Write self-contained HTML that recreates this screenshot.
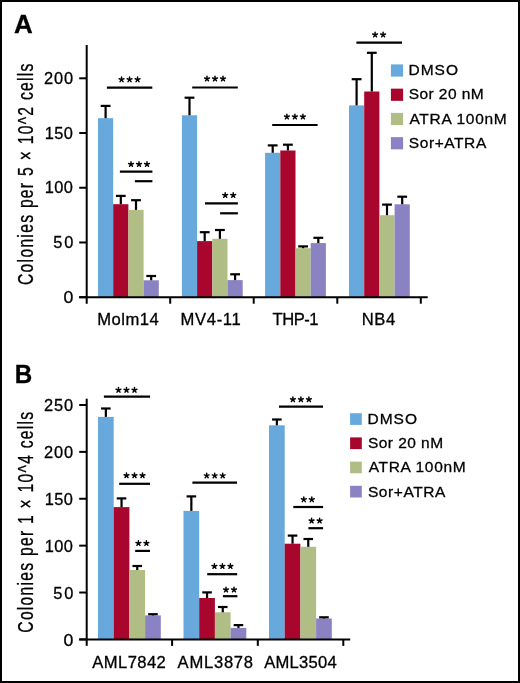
<!DOCTYPE html>
<html><head><meta charset="utf-8"><style>
html,body{margin:0;padding:0;background:#fff;}
body{width:520px;height:683px;overflow:hidden;}
svg{display:block;will-change:transform;}
text{font-family:"Liberation Sans", sans-serif;fill:#000;stroke:#000;stroke-width:0.3px;}
</style></head><body>
<svg width="520" height="683" viewBox="0 0 520 683">
<rect x="0" y="0" width="520" height="683" fill="#fff"/>
<rect x="98.00" y="118.20" width="15.20" height="179.00" fill="#67a9dd"/>
<line x1="105.60" y1="105.90" x2="105.60" y2="118.20" stroke="#000" stroke-width="2.2"/>
<line x1="100.70" y1="105.90" x2="110.50" y2="105.90" stroke="#000" stroke-width="2.2"/>
<rect x="113.20" y="204.20" width="15.20" height="93.00" fill="#a8062c"/>
<line x1="120.80" y1="195.90" x2="120.80" y2="204.20" stroke="#000" stroke-width="2.2"/>
<line x1="115.90" y1="195.90" x2="125.70" y2="195.90" stroke="#000" stroke-width="2.2"/>
<rect x="128.40" y="209.90" width="15.20" height="87.30" fill="#b0bd85"/>
<line x1="136.00" y1="200.20" x2="136.00" y2="209.90" stroke="#000" stroke-width="2.2"/>
<line x1="131.10" y1="200.20" x2="140.90" y2="200.20" stroke="#000" stroke-width="2.2"/>
<rect x="143.60" y="280.30" width="15.20" height="16.90" fill="#8b82c3"/>
<line x1="151.20" y1="276.00" x2="151.20" y2="280.30" stroke="#000" stroke-width="2.2"/>
<line x1="146.30" y1="276.00" x2="156.10" y2="276.00" stroke="#000" stroke-width="2.2"/>
<rect x="181.90" y="115.30" width="15.20" height="181.90" fill="#67a9dd"/>
<line x1="189.50" y1="97.70" x2="189.50" y2="115.30" stroke="#000" stroke-width="2.2"/>
<line x1="184.60" y1="97.70" x2="194.40" y2="97.70" stroke="#000" stroke-width="2.2"/>
<rect x="197.10" y="241.10" width="15.20" height="56.10" fill="#a8062c"/>
<line x1="204.70" y1="232.20" x2="204.70" y2="241.10" stroke="#000" stroke-width="2.2"/>
<line x1="199.80" y1="232.20" x2="209.60" y2="232.20" stroke="#000" stroke-width="2.2"/>
<rect x="212.30" y="238.80" width="15.20" height="58.40" fill="#b0bd85"/>
<line x1="219.90" y1="230.00" x2="219.90" y2="238.80" stroke="#000" stroke-width="2.2"/>
<line x1="215.00" y1="230.00" x2="224.80" y2="230.00" stroke="#000" stroke-width="2.2"/>
<rect x="227.50" y="280.10" width="15.20" height="17.10" fill="#8b82c3"/>
<line x1="235.10" y1="274.30" x2="235.10" y2="280.10" stroke="#000" stroke-width="2.2"/>
<line x1="230.20" y1="274.30" x2="240.00" y2="274.30" stroke="#000" stroke-width="2.2"/>
<rect x="265.10" y="152.80" width="15.20" height="144.40" fill="#67a9dd"/>
<line x1="272.70" y1="145.40" x2="272.70" y2="152.80" stroke="#000" stroke-width="2.2"/>
<line x1="267.80" y1="145.40" x2="277.60" y2="145.40" stroke="#000" stroke-width="2.2"/>
<rect x="280.30" y="150.50" width="15.20" height="146.70" fill="#a8062c"/>
<line x1="287.90" y1="144.70" x2="287.90" y2="150.50" stroke="#000" stroke-width="2.2"/>
<line x1="283.00" y1="144.70" x2="292.80" y2="144.70" stroke="#000" stroke-width="2.2"/>
<rect x="295.50" y="248.20" width="15.20" height="49.00" fill="#b0bd85"/>
<line x1="303.10" y1="246.40" x2="303.10" y2="248.20" stroke="#000" stroke-width="2.2"/>
<line x1="298.20" y1="246.40" x2="308.00" y2="246.40" stroke="#000" stroke-width="2.2"/>
<rect x="310.70" y="243.10" width="15.20" height="54.10" fill="#8b82c3"/>
<line x1="318.30" y1="237.80" x2="318.30" y2="243.10" stroke="#000" stroke-width="2.2"/>
<line x1="313.40" y1="237.80" x2="323.20" y2="237.80" stroke="#000" stroke-width="2.2"/>
<rect x="349.00" y="105.40" width="15.20" height="191.80" fill="#67a9dd"/>
<line x1="356.60" y1="79.20" x2="356.60" y2="105.40" stroke="#000" stroke-width="2.2"/>
<line x1="351.70" y1="79.20" x2="361.50" y2="79.20" stroke="#000" stroke-width="2.2"/>
<rect x="364.20" y="91.50" width="15.20" height="205.70" fill="#a8062c"/>
<line x1="371.80" y1="52.80" x2="371.80" y2="91.50" stroke="#000" stroke-width="2.2"/>
<line x1="366.90" y1="52.80" x2="376.70" y2="52.80" stroke="#000" stroke-width="2.2"/>
<rect x="379.40" y="215.20" width="15.20" height="82.00" fill="#b0bd85"/>
<line x1="387.00" y1="204.60" x2="387.00" y2="215.20" stroke="#000" stroke-width="2.2"/>
<line x1="382.10" y1="204.60" x2="391.90" y2="204.60" stroke="#000" stroke-width="2.2"/>
<rect x="394.60" y="204.30" width="15.20" height="92.90" fill="#8b82c3"/>
<line x1="402.20" y1="196.70" x2="402.20" y2="204.30" stroke="#000" stroke-width="2.2"/>
<line x1="397.30" y1="196.70" x2="407.10" y2="196.70" stroke="#000" stroke-width="2.2"/>
<line x1="86.70" y1="45.00" x2="86.70" y2="303.70" stroke="#000" stroke-width="2.0"/>
<line x1="79.20" y1="297.20" x2="427.70" y2="297.20" stroke="#000" stroke-width="2.0"/>
<line x1="79.20" y1="297.20" x2="86.70" y2="297.20" stroke="#000" stroke-width="2.0"/>
<text transform="translate(63.39,302.70) scale(1.0798,1)" font-size="16.4">0</text>
<line x1="79.20" y1="242.47" x2="86.70" y2="242.47" stroke="#000" stroke-width="2.0"/>
<text transform="translate(53.34,247.97) scale(1.0000,1)" font-size="16.4" letter-spacing="1.708">50</text>
<line x1="79.20" y1="187.75" x2="86.70" y2="187.75" stroke="#000" stroke-width="2.0"/>
<text transform="translate(44.79,193.25) scale(1.0000,1)" font-size="16.4" letter-spacing="0.390">100</text>
<line x1="79.20" y1="133.03" x2="86.70" y2="133.03" stroke="#000" stroke-width="2.0"/>
<text transform="translate(44.79,138.53) scale(1.0000,1)" font-size="16.4" letter-spacing="0.390">150</text>
<line x1="79.20" y1="78.30" x2="86.70" y2="78.30" stroke="#000" stroke-width="2.0"/>
<text transform="translate(44.08,83.80) scale(1.0000,1)" font-size="16.4" letter-spacing="0.894">200</text>
<line x1="170.20" y1="297.20" x2="170.20" y2="303.70" stroke="#000" stroke-width="2.0"/>
<line x1="253.70" y1="297.20" x2="253.70" y2="303.70" stroke="#000" stroke-width="2.0"/>
<line x1="337.30" y1="297.20" x2="337.30" y2="303.70" stroke="#000" stroke-width="2.0"/>
<line x1="420.80" y1="297.20" x2="420.80" y2="303.70" stroke="#000" stroke-width="2.0"/>
<text transform="translate(97.17,325.00) scale(1.0000,1)" font-size="16.6" letter-spacing="0.526">Molm14</text>
<text transform="translate(180.47,325.00) scale(1.0000,1)" font-size="16.6" letter-spacing="0.684">MV4-11</text>
<text transform="translate(272.57,325.00) scale(1.0000,1)" font-size="16.6" letter-spacing="-0.478">THP-1</text>
<text transform="translate(361.77,325.00) scale(1.0000,1)" font-size="16.6" letter-spacing="0.578">NB4</text>
<line x1="106.90" y1="87.60" x2="152.30" y2="87.60" stroke="#000" stroke-width="2.2"/>
<path d="M121.55,79.57L121.55,77.02M121.55,79.57L123.98,78.79M121.55,79.57L123.05,81.64M121.55,79.57L120.05,81.64M121.55,79.57L119.12,78.79" stroke="#000" stroke-width="1.45" stroke-linecap="round" fill="none"/>
<path d="M129.55,79.57L129.55,77.02M129.55,79.57L131.98,78.79M129.55,79.57L131.05,81.64M129.55,79.57L128.05,81.64M129.55,79.57L127.12,78.79" stroke="#000" stroke-width="1.45" stroke-linecap="round" fill="none"/>
<path d="M137.55,79.57L137.55,77.02M137.55,79.57L139.98,78.79M137.55,79.57L139.05,81.64M137.55,79.57L136.05,81.64M137.55,79.57L135.12,78.79" stroke="#000" stroke-width="1.45" stroke-linecap="round" fill="none"/>
<line x1="119.90" y1="171.60" x2="152.40" y2="171.60" stroke="#000" stroke-width="2.2"/>
<path d="M131.00,164.28L131.00,161.72M131.00,164.28L133.43,163.49M131.00,164.28L132.50,166.34M131.00,164.28L129.50,166.34M131.00,164.28L128.57,163.49" stroke="#000" stroke-width="1.45" stroke-linecap="round" fill="none"/>
<path d="M139.00,164.28L139.00,161.72M139.00,164.28L141.43,163.49M139.00,164.28L140.50,166.34M139.00,164.28L137.50,166.34M139.00,164.28L136.57,163.49" stroke="#000" stroke-width="1.45" stroke-linecap="round" fill="none"/>
<path d="M147.00,164.28L147.00,161.72M147.00,164.28L149.43,163.49M147.00,164.28L148.50,166.34M147.00,164.28L145.50,166.34M147.00,164.28L144.57,163.49" stroke="#000" stroke-width="1.45" stroke-linecap="round" fill="none"/>
<line x1="134.90" y1="181.20" x2="152.40" y2="181.20" stroke="#000" stroke-width="2.2"/>
<line x1="192.20" y1="87.50" x2="237.80" y2="87.50" stroke="#000" stroke-width="2.2"/>
<path d="M207.00,78.77L207.00,76.22M207.00,78.77L209.43,77.99M207.00,78.77L208.50,80.84M207.00,78.77L205.50,80.84M207.00,78.77L204.57,77.99" stroke="#000" stroke-width="1.45" stroke-linecap="round" fill="none"/>
<path d="M215.00,78.77L215.00,76.22M215.00,78.77L217.43,77.99M215.00,78.77L216.50,80.84M215.00,78.77L213.50,80.84M215.00,78.77L212.57,77.99" stroke="#000" stroke-width="1.45" stroke-linecap="round" fill="none"/>
<path d="M223.00,78.77L223.00,76.22M223.00,78.77L225.43,77.99M223.00,78.77L224.50,80.84M223.00,78.77L221.50,80.84M223.00,78.77L220.57,77.99" stroke="#000" stroke-width="1.45" stroke-linecap="round" fill="none"/>
<line x1="205.00" y1="203.40" x2="237.90" y2="203.40" stroke="#000" stroke-width="2.2"/>
<path d="M225.20,195.28L225.20,192.72M225.20,195.28L227.63,194.49M225.20,195.28L226.70,197.34M225.20,195.28L223.70,197.34M225.20,195.28L222.77,194.49" stroke="#000" stroke-width="1.45" stroke-linecap="round" fill="none"/>
<path d="M233.20,195.28L233.20,192.72M233.20,195.28L235.63,194.49M233.20,195.28L234.70,197.34M233.20,195.28L231.70,197.34M233.20,195.28L230.77,194.49" stroke="#000" stroke-width="1.45" stroke-linecap="round" fill="none"/>
<line x1="220.10" y1="213.30" x2="237.90" y2="213.30" stroke="#000" stroke-width="2.2"/>
<line x1="272.20" y1="125.00" x2="317.60" y2="125.00" stroke="#000" stroke-width="2.2"/>
<path d="M286.90,116.77L286.90,114.22M286.90,116.77L289.33,115.99M286.90,116.77L288.40,118.84M286.90,116.77L285.40,118.84M286.90,116.77L284.47,115.99" stroke="#000" stroke-width="1.45" stroke-linecap="round" fill="none"/>
<path d="M294.90,116.77L294.90,114.22M294.90,116.77L297.33,115.99M294.90,116.77L296.40,118.84M294.90,116.77L293.40,118.84M294.90,116.77L292.47,115.99" stroke="#000" stroke-width="1.45" stroke-linecap="round" fill="none"/>
<path d="M302.90,116.77L302.90,114.22M302.90,116.77L305.33,115.99M302.90,116.77L304.40,118.84M302.90,116.77L301.40,118.84M302.90,116.77L300.47,115.99" stroke="#000" stroke-width="1.45" stroke-linecap="round" fill="none"/>
<line x1="356.40" y1="42.60" x2="402.00" y2="42.60" stroke="#000" stroke-width="2.2"/>
<path d="M375.10,34.77L375.10,32.23M375.10,34.77L377.53,33.99M375.10,34.77L376.60,36.84M375.10,34.77L373.60,36.84M375.10,34.77L372.67,33.99" stroke="#000" stroke-width="1.45" stroke-linecap="round" fill="none"/>
<path d="M383.10,34.77L383.10,32.23M383.10,34.77L385.53,33.99M383.10,34.77L384.60,36.84M383.10,34.77L381.60,36.84M383.10,34.77L380.67,33.99" stroke="#000" stroke-width="1.45" stroke-linecap="round" fill="none"/>
<rect x="390.90" y="64.40" width="12.20" height="12.20" fill="#67a9dd"/>
<text transform="translate(408.46,75.20) scale(1.0000,1)" font-size="15.5" letter-spacing="1.005">DMSO</text>
<rect x="390.90" y="88.65" width="12.20" height="12.20" fill="#a8062c"/>
<text transform="translate(408.73,99.45) scale(1.0000,1)" font-size="15.5" letter-spacing="0.420">Sor 20 nM</text>
<rect x="390.90" y="112.90" width="12.20" height="12.20" fill="#b0bd85"/>
<text transform="translate(409.50,123.70) scale(1.0000,1)" font-size="15.5" letter-spacing="0.684">ATRA 100nM</text>
<rect x="390.90" y="137.15" width="12.20" height="12.20" fill="#8b82c3"/>
<text transform="translate(408.73,147.95) scale(1.0000,1)" font-size="15.5" letter-spacing="0.594">Sor+ATRA</text>
<text transform="translate(32.70,284.98) rotate(-90) scale(0.7200,1)" font-size="21.8" letter-spacing="1.768">Colonies per 5 × 10^2 cells</text>
<text transform="translate(14.12,33.00) scale(1.0200,1)" font-size="25.4" font-weight="bold">A</text>
<rect x="98.00" y="416.90" width="15.70" height="222.50" fill="#67a9dd"/>
<line x1="105.85" y1="408.50" x2="105.85" y2="416.90" stroke="#000" stroke-width="2.2"/>
<line x1="101.05" y1="408.50" x2="110.65" y2="408.50" stroke="#000" stroke-width="2.2"/>
<rect x="113.70" y="507.10" width="15.70" height="132.30" fill="#a8062c"/>
<line x1="121.55" y1="498.40" x2="121.55" y2="507.10" stroke="#000" stroke-width="2.2"/>
<line x1="116.75" y1="498.40" x2="126.35" y2="498.40" stroke="#000" stroke-width="2.2"/>
<rect x="129.40" y="570.00" width="15.70" height="69.40" fill="#b0bd85"/>
<line x1="137.25" y1="566.00" x2="137.25" y2="570.00" stroke="#000" stroke-width="2.2"/>
<line x1="132.45" y1="566.00" x2="142.05" y2="566.00" stroke="#000" stroke-width="2.2"/>
<rect x="145.10" y="615.40" width="15.70" height="24.00" fill="#8b82c3"/>
<line x1="152.95" y1="614.20" x2="152.95" y2="615.40" stroke="#000" stroke-width="2.2"/>
<line x1="148.15" y1="614.20" x2="157.75" y2="614.20" stroke="#000" stroke-width="2.2"/>
<rect x="183.50" y="510.90" width="15.70" height="128.50" fill="#67a9dd"/>
<line x1="191.35" y1="496.40" x2="191.35" y2="510.90" stroke="#000" stroke-width="2.2"/>
<line x1="186.55" y1="496.40" x2="196.15" y2="496.40" stroke="#000" stroke-width="2.2"/>
<rect x="199.20" y="598.00" width="15.70" height="41.40" fill="#a8062c"/>
<line x1="207.05" y1="592.40" x2="207.05" y2="598.00" stroke="#000" stroke-width="2.2"/>
<line x1="202.25" y1="592.40" x2="211.85" y2="592.40" stroke="#000" stroke-width="2.2"/>
<rect x="214.90" y="612.30" width="15.70" height="27.10" fill="#b0bd85"/>
<line x1="222.75" y1="607.00" x2="222.75" y2="612.30" stroke="#000" stroke-width="2.2"/>
<line x1="217.95" y1="607.00" x2="227.55" y2="607.00" stroke="#000" stroke-width="2.2"/>
<rect x="230.60" y="627.90" width="15.70" height="11.50" fill="#8b82c3"/>
<line x1="238.45" y1="625.10" x2="238.45" y2="627.90" stroke="#000" stroke-width="2.2"/>
<line x1="233.65" y1="625.10" x2="243.25" y2="625.10" stroke="#000" stroke-width="2.2"/>
<rect x="269.00" y="425.30" width="15.70" height="214.10" fill="#67a9dd"/>
<line x1="276.85" y1="419.50" x2="276.85" y2="425.30" stroke="#000" stroke-width="2.2"/>
<line x1="272.05" y1="419.50" x2="281.65" y2="419.50" stroke="#000" stroke-width="2.2"/>
<rect x="284.70" y="543.70" width="15.70" height="95.70" fill="#a8062c"/>
<line x1="292.55" y1="535.60" x2="292.55" y2="543.70" stroke="#000" stroke-width="2.2"/>
<line x1="287.75" y1="535.60" x2="297.35" y2="535.60" stroke="#000" stroke-width="2.2"/>
<rect x="300.40" y="546.80" width="15.70" height="92.60" fill="#b0bd85"/>
<line x1="308.25" y1="539.00" x2="308.25" y2="546.80" stroke="#000" stroke-width="2.2"/>
<line x1="303.45" y1="539.00" x2="313.05" y2="539.00" stroke="#000" stroke-width="2.2"/>
<rect x="316.10" y="618.50" width="15.70" height="20.90" fill="#8b82c3"/>
<line x1="323.95" y1="617.30" x2="323.95" y2="618.50" stroke="#000" stroke-width="2.2"/>
<line x1="319.15" y1="617.30" x2="328.75" y2="617.30" stroke="#000" stroke-width="2.2"/>
<line x1="86.70" y1="398.70" x2="86.70" y2="645.90" stroke="#000" stroke-width="2.0"/>
<line x1="79.20" y1="639.40" x2="350.20" y2="639.40" stroke="#000" stroke-width="2.0"/>
<line x1="79.20" y1="639.40" x2="86.70" y2="639.40" stroke="#000" stroke-width="2.0"/>
<text transform="translate(63.39,645.70) scale(1.0798,1)" font-size="16.4">0</text>
<line x1="79.20" y1="592.52" x2="86.70" y2="592.52" stroke="#000" stroke-width="2.0"/>
<text transform="translate(53.34,598.82) scale(1.0000,1)" font-size="16.4" letter-spacing="1.708">50</text>
<line x1="79.20" y1="545.64" x2="86.70" y2="545.64" stroke="#000" stroke-width="2.0"/>
<text transform="translate(44.79,551.94) scale(1.0000,1)" font-size="16.4" letter-spacing="0.390">100</text>
<line x1="79.20" y1="498.76" x2="86.70" y2="498.76" stroke="#000" stroke-width="2.0"/>
<text transform="translate(44.79,505.06) scale(1.0000,1)" font-size="16.4" letter-spacing="0.390">150</text>
<line x1="79.20" y1="451.88" x2="86.70" y2="451.88" stroke="#000" stroke-width="2.0"/>
<text transform="translate(44.08,458.18) scale(1.0000,1)" font-size="16.4" letter-spacing="0.894">200</text>
<line x1="79.20" y1="405.00" x2="86.70" y2="405.00" stroke="#000" stroke-width="2.0"/>
<text transform="translate(44.08,411.30) scale(1.0000,1)" font-size="16.4" letter-spacing="0.844">250</text>
<line x1="172.10" y1="639.40" x2="172.10" y2="645.90" stroke="#000" stroke-width="2.0"/>
<line x1="257.80" y1="639.40" x2="257.80" y2="645.90" stroke="#000" stroke-width="2.0"/>
<line x1="343.30" y1="639.40" x2="343.30" y2="645.90" stroke="#000" stroke-width="2.0"/>
<text transform="translate(92.30,667.80) scale(1.0000,1)" font-size="16.6" letter-spacing="0.414">AML7842</text>
<text transform="translate(177.60,667.80) scale(1.0000,1)" font-size="16.6" letter-spacing="0.736">AML3878</text>
<text transform="translate(264.20,667.80) scale(1.0000,1)" font-size="16.6" letter-spacing="0.242">AML3504</text>
<line x1="103.90" y1="396.70" x2="150.00" y2="396.70" stroke="#000" stroke-width="2.2"/>
<path d="M118.50,390.08L118.50,387.53M118.50,390.08L120.93,389.29M118.50,390.08L120.00,392.14M118.50,390.08L117.00,392.14M118.50,390.08L116.07,389.29" stroke="#000" stroke-width="1.45" stroke-linecap="round" fill="none"/>
<path d="M126.50,390.08L126.50,387.53M126.50,390.08L128.93,389.29M126.50,390.08L128.00,392.14M126.50,390.08L125.00,392.14M126.50,390.08L124.07,389.29" stroke="#000" stroke-width="1.45" stroke-linecap="round" fill="none"/>
<path d="M134.50,390.08L134.50,387.53M134.50,390.08L136.93,389.29M134.50,390.08L136.00,392.14M134.50,390.08L133.00,392.14M134.50,390.08L132.07,389.29" stroke="#000" stroke-width="1.45" stroke-linecap="round" fill="none"/>
<line x1="119.20" y1="483.80" x2="150.00" y2="483.80" stroke="#000" stroke-width="2.2"/>
<path d="M126.50,475.48L126.50,472.93M126.50,475.48L128.93,474.69M126.50,475.48L128.00,477.54M126.50,475.48L125.00,477.54M126.50,475.48L124.07,474.69" stroke="#000" stroke-width="1.45" stroke-linecap="round" fill="none"/>
<path d="M134.50,475.48L134.50,472.93M134.50,475.48L136.93,474.69M134.50,475.48L136.00,477.54M134.50,475.48L133.00,477.54M134.50,475.48L132.07,474.69" stroke="#000" stroke-width="1.45" stroke-linecap="round" fill="none"/>
<path d="M142.50,475.48L142.50,472.93M142.50,475.48L144.93,474.69M142.50,475.48L144.00,477.54M142.50,475.48L141.00,477.54M142.50,475.48L140.07,474.69" stroke="#000" stroke-width="1.45" stroke-linecap="round" fill="none"/>
<line x1="135.20" y1="550.90" x2="150.00" y2="550.90" stroke="#000" stroke-width="2.2"/>
<path d="M138.40,543.27L138.40,540.73M138.40,543.27L140.83,542.49M138.40,543.27L139.90,545.34M138.40,543.27L136.90,545.34M138.40,543.27L135.97,542.49" stroke="#000" stroke-width="1.45" stroke-linecap="round" fill="none"/>
<path d="M146.40,543.27L146.40,540.73M146.40,543.27L148.83,542.49M146.40,543.27L147.90,545.34M146.40,543.27L144.90,545.34M146.40,543.27L143.97,542.49" stroke="#000" stroke-width="1.45" stroke-linecap="round" fill="none"/>
<line x1="192.40" y1="482.70" x2="237.00" y2="482.70" stroke="#000" stroke-width="2.2"/>
<path d="M206.70,475.68L206.70,473.12M206.70,475.68L209.13,474.89M206.70,475.68L208.20,477.74M206.70,475.68L205.20,477.74M206.70,475.68L204.27,474.89" stroke="#000" stroke-width="1.45" stroke-linecap="round" fill="none"/>
<path d="M214.70,475.68L214.70,473.12M214.70,475.68L217.13,474.89M214.70,475.68L216.20,477.74M214.70,475.68L213.20,477.74M214.70,475.68L212.27,474.89" stroke="#000" stroke-width="1.45" stroke-linecap="round" fill="none"/>
<path d="M222.70,475.68L222.70,473.12M222.70,475.68L225.13,474.89M222.70,475.68L224.20,477.74M222.70,475.68L221.20,477.74M222.70,475.68L220.27,474.89" stroke="#000" stroke-width="1.45" stroke-linecap="round" fill="none"/>
<line x1="207.20" y1="574.20" x2="237.20" y2="574.20" stroke="#000" stroke-width="2.2"/>
<path d="M214.40,566.27L214.40,563.73M214.40,566.27L216.83,565.49M214.40,566.27L215.90,568.34M214.40,566.27L212.90,568.34M214.40,566.27L211.97,565.49" stroke="#000" stroke-width="1.45" stroke-linecap="round" fill="none"/>
<path d="M222.40,566.27L222.40,563.73M222.40,566.27L224.83,565.49M222.40,566.27L223.90,568.34M222.40,566.27L220.90,568.34M222.40,566.27L219.97,565.49" stroke="#000" stroke-width="1.45" stroke-linecap="round" fill="none"/>
<path d="M230.40,566.27L230.40,563.73M230.40,566.27L232.83,565.49M230.40,566.27L231.90,568.34M230.40,566.27L228.90,568.34M230.40,566.27L227.97,565.49" stroke="#000" stroke-width="1.45" stroke-linecap="round" fill="none"/>
<line x1="222.90" y1="596.20" x2="237.40" y2="596.20" stroke="#000" stroke-width="2.2"/>
<path d="M226.00,589.77L226.00,587.23M226.00,589.77L228.43,588.99M226.00,589.77L227.50,591.84M226.00,589.77L224.50,591.84M226.00,589.77L223.57,588.99" stroke="#000" stroke-width="1.45" stroke-linecap="round" fill="none"/>
<path d="M234.00,589.77L234.00,587.23M234.00,589.77L236.43,588.99M234.00,589.77L235.50,591.84M234.00,589.77L232.50,591.84M234.00,589.77L231.57,588.99" stroke="#000" stroke-width="1.45" stroke-linecap="round" fill="none"/>
<line x1="279.00" y1="406.70" x2="323.00" y2="406.70" stroke="#000" stroke-width="2.2"/>
<path d="M292.90,399.48L292.90,396.93M292.90,399.48L295.33,398.69M292.90,399.48L294.40,401.54M292.90,399.48L291.40,401.54M292.90,399.48L290.47,398.69" stroke="#000" stroke-width="1.45" stroke-linecap="round" fill="none"/>
<path d="M300.90,399.48L300.90,396.93M300.90,399.48L303.33,398.69M300.90,399.48L302.40,401.54M300.90,399.48L299.40,401.54M300.90,399.48L298.47,398.69" stroke="#000" stroke-width="1.45" stroke-linecap="round" fill="none"/>
<path d="M308.90,399.48L308.90,396.93M308.90,399.48L311.33,398.69M308.90,399.48L310.40,401.54M308.90,399.48L307.40,401.54M308.90,399.48L306.47,398.69" stroke="#000" stroke-width="1.45" stroke-linecap="round" fill="none"/>
<line x1="293.30" y1="507.00" x2="323.10" y2="507.00" stroke="#000" stroke-width="2.2"/>
<path d="M303.80,499.58L303.80,497.03M303.80,499.58L306.23,498.79M303.80,499.58L305.30,501.64M303.80,499.58L302.30,501.64M303.80,499.58L301.37,498.79" stroke="#000" stroke-width="1.45" stroke-linecap="round" fill="none"/>
<path d="M311.80,499.58L311.80,497.03M311.80,499.58L314.23,498.79M311.80,499.58L313.30,501.64M311.80,499.58L310.30,501.64M311.80,499.58L309.37,498.79" stroke="#000" stroke-width="1.45" stroke-linecap="round" fill="none"/>
<line x1="308.40" y1="528.20" x2="323.10" y2="528.20" stroke="#000" stroke-width="2.2"/>
<path d="M311.60,520.77L311.60,518.23M311.60,520.77L314.03,519.99M311.60,520.77L313.10,522.84M311.60,520.77L310.10,522.84M311.60,520.77L309.17,519.99" stroke="#000" stroke-width="1.45" stroke-linecap="round" fill="none"/>
<path d="M319.60,520.77L319.60,518.23M319.60,520.77L322.03,519.99M319.60,520.77L321.10,522.84M319.60,520.77L318.10,522.84M319.60,520.77L317.17,519.99" stroke="#000" stroke-width="1.45" stroke-linecap="round" fill="none"/>
<rect x="350.10" y="413.20" width="11.70" height="11.70" fill="#67a9dd"/>
<text transform="translate(367.46,424.00) scale(1.0000,1)" font-size="15.5" letter-spacing="1.005">DMSO</text>
<rect x="350.10" y="437.40" width="11.70" height="11.70" fill="#a8062c"/>
<text transform="translate(367.93,448.20) scale(1.0000,1)" font-size="15.5" letter-spacing="0.458">Sor 20 nM</text>
<rect x="350.10" y="461.60" width="11.70" height="11.70" fill="#b0bd85"/>
<text transform="translate(368.70,472.40) scale(1.0000,1)" font-size="15.5" letter-spacing="0.651">ATRA 100nM</text>
<rect x="350.10" y="485.80" width="11.70" height="11.70" fill="#8b82c3"/>
<text transform="translate(367.93,496.60) scale(1.0000,1)" font-size="15.5" letter-spacing="0.594">Sor+ATRA</text>
<text transform="translate(32.70,632.68) rotate(-90) scale(0.7200,1)" font-size="21.8" letter-spacing="1.736">Colonies per 1 × 10^4 cells</text>
<text transform="translate(14.81,383.30) scale(0.9520,1)" font-size="25.4" font-weight="bold">B</text>
<rect x="1" y="1" width="518" height="681" fill="none" stroke="#000" stroke-width="2"/>
</svg>
</body></html>
